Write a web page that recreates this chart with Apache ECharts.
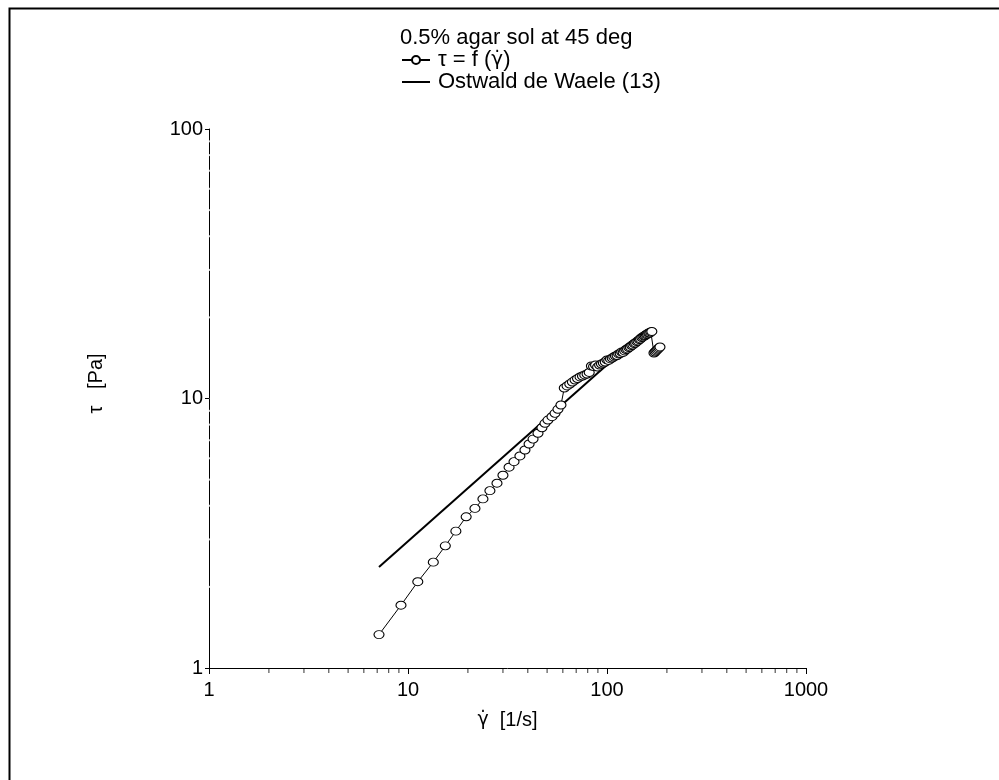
<!DOCTYPE html>
<html>
<head>
<meta charset="utf-8">
<script src="https://cdn.jsdelivr.net/npm/echarts@6/dist/echarts.min.js"></script>
<style>html,body{margin:0;padding:0;background:#fff;}#c{width:999px;height:780px;}</style>
</head>
<body>
<div id="c"></div>
<script>
// Measured data: shear rate [1/s] and shear stress [Pa]
var shearRate = [7.15, 9.22, 11.2, 13.4, 15.4, 17.4, 19.6, 21.7, 23.8, 25.8, 28.0, 30.0, 32.2, 34.1, 36.5, 38.7, 40.6, 42.5, 45.0, 47.1, 48.8, 50.5, 52.9, 54.8, 56.7, 58.7,
  61.0, 63.0, 65.0, 67.0, 69.1, 71.1, 73.2, 75.3, 77.3, 79.4, 81.4, 83.5, 85.6, 87.6, 89.7, 91.8, 93.8, 95.9, 98.0, 100, 102, 104.1, 106.2, 108.2, 110.3, 112.4, 114.4, 116.5, 118.5, 120.6,
  122.7, 124.7, 126.8, 128.9, 130.9, 133.0, 135.0, 137.1, 139.2, 141.2, 143.3, 145.4, 147.4, 149.5, 151.6, 153.6, 155.7, 157.7, 159.8, 161.9, 163.9, 166.0, 168.0,
  172.2, 174.3, 176.3, 178.4, 180.4, 182.5, 184.6];
var shearStress = [1.33, 1.71, 2.09, 2.47, 2.84, 3.22, 3.64, 3.91, 4.24, 4.55, 4.85, 5.19, 5.56, 5.83, 6.12, 6.44, 6.78, 7.07, 7.43, 7.79, 8.09, 8.32, 8.56, 8.81, 9.12, 9.46,
  10.94, 11.13, 11.32, 11.51, 11.71, 11.86, 12.02, 12.12, 12.23, 12.33, 12.49, 13.2, 13.15, 13.31, 13.09, 13.31, 13.43, 13.54, 13.66, 13.9, 13.84, 14.02, 14.13, 14.26, 14.38, 14.44, 14.63, 14.69, 14.88, 14.82,
  15.01, 15.2, 15.27, 15.46, 15.53, 15.73, 15.8, 16.0, 16.08, 16.27, 16.35, 16.55, 16.63, 16.84, 16.92, 17.06, 17.13, 17.28, 17.36, 17.5, 17.5, 17.65, 17.73,
  14.75, 14.88, 15.01, 15.14, 15.27, 15.4, 15.53];
// Ostwald de Waele fit line end points
var fitRate = [7.15, 157];
var fitStress = [2.37, 17.9];
// Axis tick values
var xMinorTicks = [2, 3, 4, 5, 6, 7, 8, 9, 20, 30, 40, 50, 60, 70, 80, 90, 200, 300, 400, 500, 600, 700, 800, 900];
var yMinorTicks = [2, 3, 4, 5, 6, 7, 8, 9, 20, 30, 40, 50, 60, 70, 80, 90];
var titleText = '0.5% agar sol at 45 deg';
var seriesName1 = 'tau_f_gammadot';
var seriesLabel1 = '{t|\u03C4 = f (}{g|\u03B3\u0307}{t|)}';
var seriesName2 = 'Ostwald de Waele (13)';
var xNameRich = '{g|\u03B3\u0307}{t|  [1/s]}';
var yName = '\u03C4   [Pa]';

var FONT = '"Liberation Sans", Arial, sans-serif';
var GFONT = '"DejaVu Sans", sans-serif';
function zip(a, b) { return a.map(function (v, i) { return [v, b[i]]; }); }

var chart = echarts.init(document.getElementById('c'), null, { renderer: 'canvas' });
chart.setOption({
  animation: false,
  backgroundColor: '#fff',
  textStyle: { fontFamily: FONT, color: '#000' },
  title: {
    text: titleText, left: 400, top: 27, padding: 0,
    textStyle: { fontFamily: FONT, fontSize: 22, fontWeight: 'normal', color: '#000' }
  },
  legend: {
    orient: 'vertical', left: 401, top: 49, padding: 0, itemGap: 0,
    itemWidth: 28, itemHeight: 10,
    data: [
      { name: seriesName1 },
      { name: seriesName2, itemStyle: { opacity: 0 } }
    ],
    formatter: function (name) { return name === seriesName1 ? seriesLabel1 : '{t|' + name + '}'; },
    textStyle: {
      fontFamily: FONT, fontSize: 22, color: '#000', padding: [0, 0, 0, 3],
      rich: {
        t: { fontFamily: FONT, fontSize: 22, color: '#000' },
        g: { fontFamily: GFONT, fontSize: 20, color: '#000' }
      }
    },
    selectedMode: false
  },
  grid: { left: 209, right: 193, top: 129, bottom: 112, containLabel: false },
  xAxis: {
    type: 'log', logBase: 10, min: 1, max: 1000,
    name: xNameRich, nameLocation: 'middle', nameGap: 42,
    nameTextStyle: {
      fontFamily: FONT, fontSize: 20, color: '#000', padding: [0, 0, 0, 0],
      rich: {
        t: { fontFamily: FONT, fontSize: 20, color: '#000' },
        g: { fontFamily: GFONT, fontSize: 19, color: '#000' }
      }
    },
    axisLine: { show: true, lineStyle: { color: '#000', width: 1 } },
    axisTick: { show: true, length: 6, lineStyle: { color: '#000' } },
    axisLabel: { fontFamily: FONT, fontSize: 20, color: '#000', margin: 12,
      formatter: function (v) { return String(Math.round(v)); } },
    splitLine: { show: false }
  },
  yAxis: {
    type: 'log', logBase: 10, min: 1, max: 100,
    name: yName, nameLocation: 'middle', nameGap: 103,
    nameTextStyle: { fontFamily: FONT, fontSize: 20, color: '#000', padding: [0, 0, 0, 30] },
    axisLine: { show: true, lineStyle: { color: '#000', width: 1 } },
    axisTick: { show: true, length: 4, lineStyle: { color: '#000' } },
    axisLabel: { fontFamily: FONT, fontSize: 20, color: '#000', margin: 6,
      formatter: function (v) { return String(Math.round(v)); } },
    splitLine: { show: false }
  },
  series: [
    {
      name: seriesName2, type: 'line', data: zip(fitRate, fitStress),
      symbol: 'none', lineStyle: { color: '#000', width: 2 }, itemStyle: { color: '#000' }, z: 2
    },
    {
      name: seriesName1, type: 'line', data: zip(shearRate, shearStress),
      symbol: 'circle', symbolSize: [10, 8], showAllSymbol: true,
      lineStyle: { color: '#000', width: 1 },
      itemStyle: { color: '#fff', borderColor: '#000', borderWidth: 1 }, z: 3
    },
    {
      name: 'xMinorTicks', type: 'scatter', silent: true, clip: false,
      data: xMinorTicks.map(function (v) { return [v, 1]; }),
      symbol: 'rect', symbolSize: [1, 5], symbolOffset: [0, 2.5],
      itemStyle: { color: '#000' }, z: 1
    },
    {
      name: 'yAxisGaps', type: 'scatter', silent: true, clip: false,
      data: yMinorTicks.map(function (v) { return [1, v]; }),
      symbol: 'rect', symbolSize: [3, 2],
      itemStyle: { color: '#fff' }, z: 1
    }
  ],
  graphic: [
    { type: 'rect', left: 7, top: 6, shape: { x: 0, y: 0, width: 1100, height: 900 },
      style: { fill: 'none', stroke: '#000', lineWidth: 2 }, silent: true }
  ]
});
</script>
</body>
</html>
